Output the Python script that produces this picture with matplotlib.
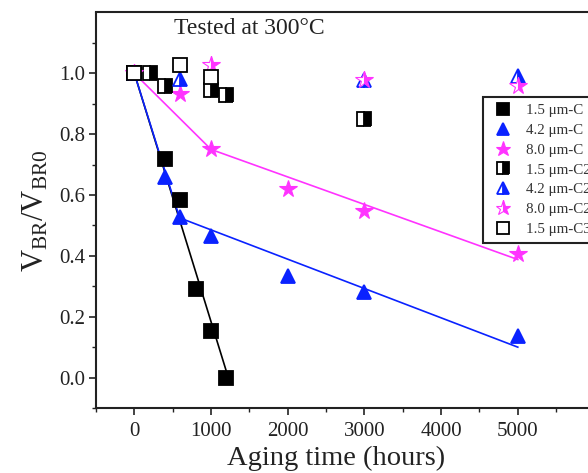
import matplotlib
matplotlib.use("Agg")
import matplotlib.pyplot as plt

plt.rcParams['font.family'] = ['Liberation Serif', 'DejaVu Serif']
plt.rcParams['mathtext.fontset'] = 'custom'
plt.rcParams['mathtext.rm'] = 'Liberation Serif'
plt.rcParams['mathtext.it'] = 'Liberation Serif:italic'

# ---- data (aging time in hours, normalized breakdown voltage) ----
sq_filled_x = [0, 400, 600, 800, 1000, 1200]
sq_filled_y = [1.0, 0.72, 0.585, 0.29, 0.152, 0.0]

tri_filled_x = [0, 400, 600, 1000, 2000, 3000, 5000]
tri_filled_y = [1.0, 0.66, 0.527, 0.467, 0.335, 0.28, 0.138]

star_filled_x = [0, 600, 1000, 2000, 3000, 5000]
star_filled_y = [1.0, 0.933, 0.752, 0.62, 0.549, 0.407]

sq_half_x = [0, 200, 400, 1000, 1200, 3000]
sq_half_y = [1.0, 1.0, 0.96, 0.944, 0.928, 0.849]

tri_half_x = [0, 600, 3000, 5000]
tri_half_y = [1.0, 0.98, 0.977, 0.99]

star_half_x = [0, 1000, 3000, 5000]
star_half_y = [1.0, 1.026, 0.977, 0.96]

sq_open_x = [0, 600, 1000]
sq_open_y = [1.0, 1.026, 0.988]

# fitted trend lines
fit_black_x = [0, 1225]
fit_black_y = [1.0, 0.0]
fit_blue_x = [0, 590, 5000]
fit_blue_y = [1.0, 0.525, 0.10]
fit_mag_x = [0, 1000, 5000]
fit_mag_y = [1.0, 0.75, 0.388]

labels = ["1.5 \u03bcm-C", "4.2 \u03bcm-C", "8.0 \u03bcm-C",
          "1.5 \u03bcm-C2", "4.2 \u03bcm-C2", "8.0 \u03bcm-C2", "1.5 \u03bcm-C3"]

xticks = [0, 1000, 2000, 3000, 4000, 5000]
yticks = [0.0, 0.2, 0.4, 0.6, 0.8, 1.0]

BLACK = '#000000'
BLUE = '#0a22ff'
MAG = '#ff33ff'

fig = plt.figure(figsize=(5.88, 4.73), dpi=100)
W, H = 588, 473
ax = fig.add_axes([96 / W, (H - 408) / H, (594.5 - 96) / W, (408 - 12.5) / H])

# trend lines
ax.plot(fit_black_x, fit_black_y, color=BLACK, lw=1.2, zorder=2)
ax.plot(fit_blue_x, fit_blue_y, color=BLUE, lw=1.2, zorder=2)
ax.plot(fit_mag_x, fit_mag_y, color=MAG, lw=1.2, zorder=2)

mew = 1.3
h1, = ax.plot(sq_filled_x, sq_filled_y, ls='none', marker='s', ms=9.5,
              color=BLACK, mec=BLACK, mew=mew, zorder=3)
h2, = ax.plot(tri_filled_x, tri_filled_y, ls='none', marker='^', ms=10.5,
              color=BLUE, mec=BLUE, mew=mew, zorder=3)
h3, = ax.plot(star_filled_x, star_filled_y, ls='none', marker='*', ms=13,
              color=MAG, mec=MAG, mew=0.8, zorder=3)
h4, = ax.plot(sq_half_x, sq_half_y, ls='none', marker='s', ms=9.5,
              fillstyle='right', mfc=BLACK, mfcalt='white', mec=BLACK, mew=mew, zorder=3)
h5, = ax.plot(tri_half_x, tri_half_y, ls='none', marker='^', ms=10.5,
              fillstyle='right', mfc=BLUE, mfcalt='white', mec=BLUE, mew=mew, zorder=3)
h6, = ax.plot(star_half_x, star_half_y, ls='none', marker='*', ms=13,
              fillstyle='right', mfc=MAG, mfcalt='white', mec=MAG, mew=0.8, zorder=3)
h7, = ax.plot(sq_open_x, sq_open_y, ls='none', marker='s', ms=9.5,
              mfc='white', mec=BLACK, mew=mew, zorder=4)

ax.set_xlim(-500, 6000)
ax.set_ylim(-0.1, 1.2)
ax.set_xticks(xticks)
ax.set_xticklabels([str(v) for v in xticks])
ax.set_yticks(yticks)
ax.set_yticklabels([f"{v:.1f}" for v in yticks])
ax.set_xticks([-500, 500, 1500, 2500, 3500, 4500, 5500], minor=True)
ax.set_yticks([-0.1, 0.1, 0.3, 0.5, 0.7, 0.9, 1.1], minor=True)
ax.tick_params(which='major', direction='out', length=5, width=1.2, labelsize=15, pad=3,
               colors='#222222')
ax.tick_params(which='minor', direction='out', length=3, width=1.0, colors='#222222')
ax.tick_params(axis='x', which='major', pad=5)
for s in ax.spines.values():
    s.set_linewidth(1.5)
    s.set_color('#222222')

ax.set_xlabel("Aging time (hours)", fontsize=20.5, color='#222222')
ax.xaxis.set_label_coords((336 - 96) / 498.5, -(446 - 408) / 395.5)
ax.set_ylabel(r"$\mathrm{V_{BR}/V_{BR0}}$", fontsize=22, labelpad=6, color='#222222')

ax.text(1500, 1.148, "Tested at 300\u00b0C", fontsize=17, ha='center', va='center',
        color='#222222')

leg = ax.legend([h1, h2, h3, h4, h5, h6, h7], labels, loc='upper left',
                bbox_to_anchor=(483 / W, 1 - 97 / H), bbox_transform=fig.transFigure,
                borderaxespad=0, fontsize=10.8, frameon=True, fancybox=False,
                edgecolor='#222222', framealpha=1, handlelength=1.8, handletextpad=0.65,
                labelspacing=0.42, borderpad=0.45, markerscale=0.85)
leg.get_frame().set_linewidth(1.5)
for t in leg.get_texts():
    t.set_color('#333333')

fig.savefig("out.png", dpi=100)
